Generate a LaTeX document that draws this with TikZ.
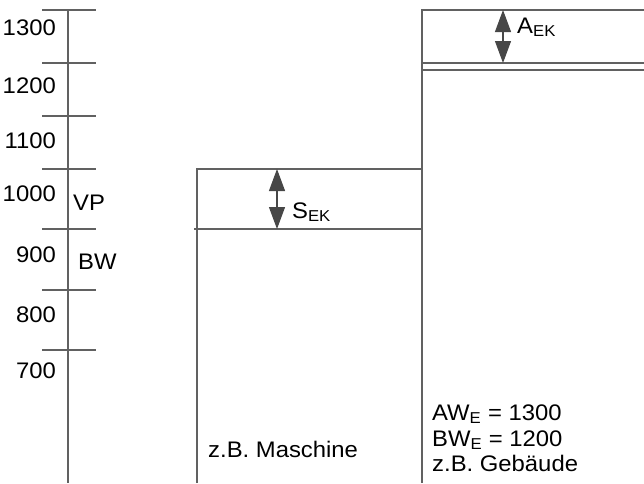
\documentclass[tikz,border=0pt]{standalone}
\usepackage{fontspec}
\setmainfont{Liberation Sans}
\usetikzlibrary{arrows.meta}
\newcommand{\hs}[1]{\scalebox{1.06}[1]{#1}}
\tikzset{
  ln/.style={draw=black!62, line width=1.4pt},
  lnthin/.style={draw=black!62, line width=1.1pt},
  txt/.style={inner sep=0pt, font=\fontsize{22.5}{26}\selectfont},
  dim/.style={draw=black!72, line width=1.1pt, {Triangle[length=22pt,width=16pt]}-{Triangle[length=22pt,width=16pt]}, fill=black!72},
}
\begin{document}
\begin{tikzpicture}[x=1pt,y=-1pt]
\useasboundingbox (0,0) rectangle (644,483);
% axis
\coordinate (axt) at (68,10);
\coordinate (axb) at (68,483);
\draw[ln] (axt) -- (axb);
\foreach \y/\lab/\b in {10/1300/35, 63/1200/93, 116/1100/148, 169/1000/201, 229/900/262, 290/800/322, 350/700/378}{
  \coordinate (tl\lab) at (42,\y);
  \coordinate (tr\lab) at (96,\y);
  \draw[ln] (tl\lab) -- (tr\lab);
  \node[txt, anchor=base east] (lab\lab) at (56,\b) {\hs{\lab}};
}
\node[txt, anchor=base west] (vp) at (73,210) {\hs{VP}};
\node[txt, anchor=base west] (bw) at (78,269) {\hs{BW}};
% left box (Maschine)
\coordinate (m1) at (197,483);
\coordinate (m2) at (197,169);
\coordinate (m3) at (422,169);
\coordinate (s1) at (194,229);
\coordinate (s2) at (422,229);
\draw[ln] (m1) -- (m2) -- (m3);
\draw[lnthin] (s1) -- (s2);
% right box (Gebaeude)
\coordinate (g1) at (422,483);
\coordinate (g2) at (422,10);
\coordinate (g3) at (644,10);
\coordinate (a1) at (422,63);
\coordinate (a2) at (644,63);
\coordinate (b1) at (422,70);
\coordinate (b2) at (644,70);
\draw[ln] (g1) -- (g2) -- (g3);
\draw[ln] (a1) -- (a2);
\draw[lnthin] (b1) -- (b2);
% dimension arrows
\coordinate (st) at (277,169);
\coordinate (sb) at (277,229);
\draw[dim] (st) -- (sb);
\coordinate (at) at (503,10);
\coordinate (ab) at (503,63);
\draw[dim] (at) -- (ab);
\node[txt, anchor=base west] (sek) at (292,218) {\hs{S\textsubscript{EK}}};
\node[txt, anchor=base west] (aek) at (517,33) {\hs{A\textsubscript{EK}}};
% texts
\node[txt, anchor=base west] (masch) at (208,457) {\hs{z.B. Maschine}};
\node[txt, anchor=base west] (awe) at (432,420) {\hs{AW\textsubscript{E} = 1300}};
\node[txt, anchor=base west] (bwe) at (432,446) {\hs{BW\textsubscript{E} = 1200}};
\node[txt, anchor=base west] (geb) at (432,471) {\hs{z.B. Gebäude}};
\end{tikzpicture}
\end{document}
